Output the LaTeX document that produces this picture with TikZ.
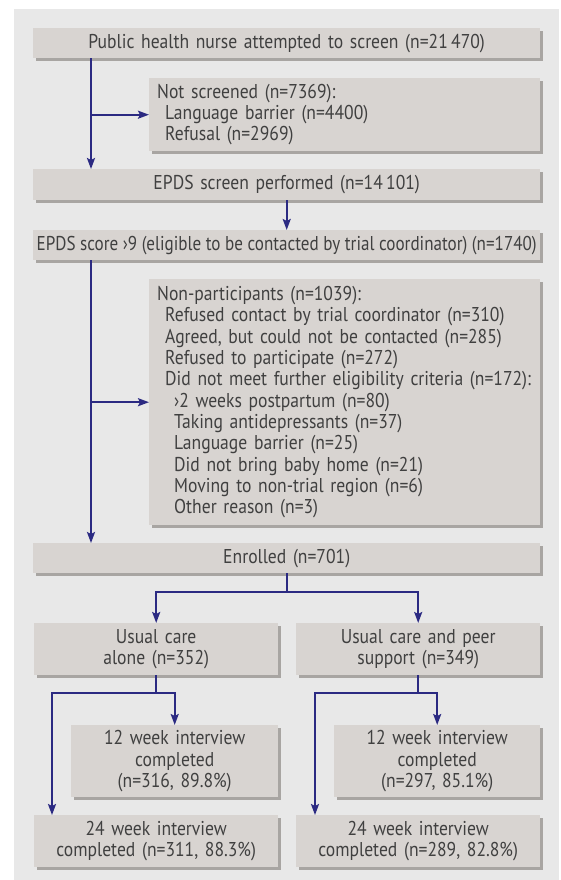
\documentclass[tikz,border=0pt]{standalone}
\usepackage{fontspec}
\setmainfont{PT Sans}[FakeStretch=0.88]
\usetikzlibrary{arrows.meta,shadows}
\definecolor{panel}{HTML}{E8E8E8}
\definecolor{boxfill}{HTML}{D8D4D1}
\definecolor{shad}{HTML}{A8A5A2}
\definecolor{txt}{HTML}{404040}
\definecolor{navy}{HTML}{2B2A82}
\tikzset{
 box/.style={fill=boxfill, anchor=north west, inner xsep=0pt, inner ysep=0pt, text=txt,
   font=\fontsize{20bp}{21.3bp}\selectfont,
   drop shadow={shadow xshift=3bp, shadow yshift=-3bp, fill=shad, opacity=1}},
 cbox/.style={box, align=center},
 lbox/.style={box, align=left, inner xsep=8bp},
 arr/.style={draw=navy, line width=2bp, -{Stealth[length=11bp,width=8bp,inset=2bp]}},
 ln/.style={draw=navy, line width=2bp},
}
\begin{document}
\begin{tikzpicture}[x=1bp,y=-1bp]
\fill[white] (0,0) rectangle (561,880);
\useasboundingbox (0,0) rectangle (561,880);
\fill[panel] (14,9) rectangle (559,880);

\node[cbox, minimum width=507bp, text width=507bp, minimum height=30bp] (b1) at (33,28) {Public health nurse attempted to screen (n=21\,470)};
\node[lbox, minimum width=391bp, text width=375bp, minimum height=73bp] (b2) at (149,78) {Not screened (n=7369):\\\hspace*{8bp}Language barrier (n=4400)\\\hspace*{8bp}Refusal (n=2969)};
\node[cbox, minimum width=507bp, text width=507bp, minimum height=31bp] (b3) at (33,169) {EPDS screen performed (n=14\,101)};
\node[box, minimum width=507bp, minimum height=30bp] (b4) at (33,230) {\scalebox{0.97}[1]{EPDS score ›9 (eligible to be contacted by trial coordinator) (n=1740)}};
\node[lbox, minimum width=391bp, text width=375bp, minimum height=246bp] (b5) at (149,279) {Non-participants (n=1039):\\
\hspace*{8bp}Refused contact by trial coordinator (n=310)\\
\hspace*{8bp}Agreed, but could not be contacted (n=285)\\
\hspace*{8bp}Refused to participate (n=272)\\
\hspace*{8bp}Did not meet further eligibility criteria (n=172):\\
\hspace*{17bp}›2 weeks postpartum (n=80)\\
\hspace*{17bp}Taking antidepressants (n=37)\\
\hspace*{17bp}Language barrier (n=25)\\
\hspace*{17bp}Did not bring baby home (n=21)\\
\hspace*{17bp}Moving to non-trial region (n=6)\\
\hspace*{17bp}Other reason (n=3)};
\node[cbox, minimum width=507bp, text width=507bp, minimum height=30bp] (b6) at (33,543) {Enrolled (n=701)};
\node[cbox, minimum width=244bp, text width=244bp, minimum height=52bp] (b7) at (34,623) {Usual care\\alone (n=352)};
\node[cbox, minimum width=244bp, text width=244bp, minimum height=52bp] (b8) at (296,623) {Usual care and peer\\support (n=349)};
\node[cbox, minimum width=207bp, text width=207bp, minimum height=72bp] (b9) at (71,725) {12 week interview\\completed\\(n=316, 89.8\%)};
\node[cbox, minimum width=206bp, text width=206bp, minimum height=72bp] (b10) at (334,725) {12 week interview\\completed\\(n=297, 85.1\%)};
\node[cbox, minimum width=244bp, text width=244bp, minimum height=52bp] (b11) at (34,815) {24 week interview\\completed (n=311, 88.3\%)};
\node[cbox, minimum width=244bp, text width=244bp, minimum height=52bp] (b12) at (296,815) {24 week interview\\completed (n=289, 82.8\%)};

\coordinate (s1) at ([xshift=58bp]b1.south west);
\draw[arr] (s1) -- (s1 |- b3.north);
\draw[arr] (s1 |- b2.west) -- (b2.west);
\draw[arr] (b3.south) -- (b4.north);
\coordinate (s2) at ([xshift=58bp]b4.south west);
\draw[arr] (s2) -- (s2 |- b6.north);
\draw[arr] (s2 |- b5.west) -- (b5.west);
\coordinate (j1) at ([yshift=-19bp]b6.south);
\draw[ln] (b6.south) -- (j1);
\draw[arr] (j1) -| (b7.north);
\draw[arr] (j1) -| (b8.north);
\coordinate (j2) at ([yshift=-18bp]b7.south);
\coordinate (t11) at ([xshift=18bp]b11.north west);
\draw[ln] (b7.south) -- (j2);
\draw[arr] (j2) -| (b9.north);
\draw[arr] (j2) -| (t11);
\coordinate (j3) at ([yshift=-18bp]b8.south);
\coordinate (t12) at ([xshift=19bp]b12.north west);
\draw[ln] (b8.south) -- (j3);
\draw[arr] (j3) -| (b10.north);
\draw[arr] (j3) -| (t12);
\end{tikzpicture}
\end{document}
